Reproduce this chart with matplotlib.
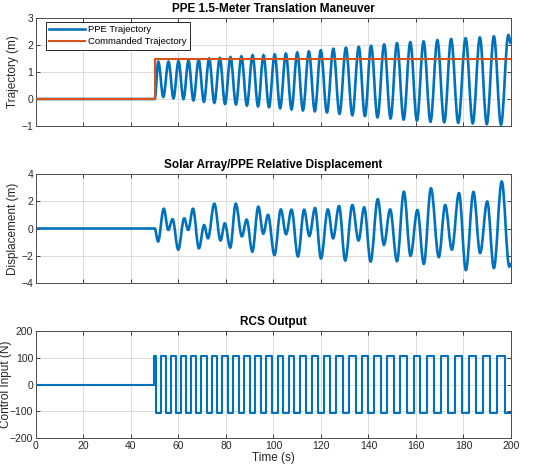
import numpy as np
import matplotlib.pyplot as plt
from matplotlib.path import Path
from matplotlib.patches import PathPatch

plt.rcParams['font.family'] = ['Liberation Sans', 'DejaVu Sans']

BLUE = '#0072BD'
ORANGE = '#D95319'
AXC = '#262626'

# commanded step
cmd_t = [0, 50, 50, 200]
cmd_y = [0, 0, 1.5, 1.5]

# PPE trajectory: peaks and troughs
peak_t = [51.5, 55.8, 60.0, 64.2, 68.5, 72.9, 77.4, 81.9, 86.5, 91.2,
          95.8, 100.5, 105.2, 110.0, 114.9, 119.9, 125.2, 130.5, 135.9, 141.1,
          146.6, 152.0, 157.6, 163.2, 169.0, 174.8, 180.9, 186.9, 192.8, 198.9]
peak_y = [1.38, 1.38, 1.40, 1.42, 1.45, 1.50, 1.52, 1.55, 1.58, 1.62,
          1.62, 1.65, 1.68, 1.72, 1.76, 1.80, 1.86, 1.90, 1.93, 1.97,
          2.02, 2.07, 2.10, 2.13, 2.18, 2.22, 2.25, 2.28, 2.32, 2.37]
trough_t = [53.6, 57.9, 62.1, 66.3, 70.7, 75.1, 79.6, 84.2, 88.8, 93.5,
            98.1, 102.8, 107.6, 112.4, 117.4, 122.5, 127.8, 133.2, 138.5, 143.8,
            149.3, 154.8, 160.4, 166.1, 171.9, 177.8, 183.9, 189.8, 195.8]
trough_y = [0.08, 0.03, 0.0, -0.05, -0.10, -0.14, -0.18, -0.20, -0.24, -0.27,
            -0.30, -0.34, -0.38, -0.42, -0.45, -0.50, -0.55, -0.60, -0.63, -0.68,
            -0.72, -0.76, -0.80, -0.84, -0.86, -0.88, -0.90, -0.93, -0.95]

# solar array / PPE relative displacement extrema
rel_t = [0, 50, 51.4, 53.8, 55.7, 57.5, 59.9, 62.4, 64.1, 66.1, 68.6, 70.8,
         72.4, 75.1, 77.7, 79.5, 81.8, 84.1, 86.7, 88.7, 91.1, 93.6, 95.7,
         97.7, 100.4, 103.1, 105.3, 107.6, 110.3, 112.9, 115.1, 117.5, 120.0,
         122.9, 125.1, 127.6, 130.2, 133.2, 135.8, 138.2, 140.9, 143.9, 146.5,
         149.1, 152.0, 154.9, 157.7, 160.6, 163.3, 166.3, 169.6, 172.3, 175.1,
         178.1, 181.0, 184.2, 187.0, 190.0, 192.8, 196.1, 199.3, 200]
rel_y = [0, 0, -0.95, 1.45, -0.1, 0.68, -1.55, 0.75, -0.1, 1.45, -1.45, 0.25,
         -0.72, 1.82, -0.88, 0.38, -1.4, 1.82, -0.58, 0.65, -1.7, 1.6, -0.38,
         1.0, -1.95, 1.4, -0.42, 1.38, -2.05, 1.38, -0.55, 1.5, -2.2,
         1.4, -0.72, 1.65, -2.35, 1.72, -0.88, 1.55, -2.42, 2.15, -1.2,
         1.4, -2.4, 2.7, -2.0, 1.35, -2.6, 2.95, -2.1, 1.72, -1.55,
         2.6, -3.05, 2.68, -1.8, 1.98, -2.9, 3.45, -2.8, -2.55]

# RCS thruster: start spike, then +/- pulses
spike_t = [0, 49.8, 49.95, 50.05, 50.2, 50.3, 50.6]
spike_y = [0, 105, 0, 105, 0, 105, -105]
rcs_on = [52.6, 56.9, 61.1, 65.3, 69.6, 74.0, 78.5, 83.1, 87.7, 92.4,
          97.0, 101.7, 106.4, 111.2, 116.2, 121.2, 126.5, 131.9, 137.2, 142.5,
          148.0, 153.4, 159.0, 164.7, 170.5, 176.3, 182.4, 188.4, 194.3]
rcs_off = [54.7, 59.0, 63.2, 67.4, 71.8, 76.3, 80.8, 85.4, 90.0, 94.7,
           99.3, 104.0, 108.8, 113.7, 118.7, 123.9, 129.2, 134.6, 139.8, 145.2,
           150.7, 156.2, 161.8, 167.6, 173.4, 179.4, 185.4, 191.3, 197.4]
rcs_level = 105

pts = sorted(zip(peak_t + trough_t, peak_y + trough_y))
ppe_t = [0, 50] + [p[0] for p in pts] + [200]
ppe_y = [0, 0] + [p[1] for p in pts] + [2.05]

rcs_t = list(spike_t)
rcs_y = list(spike_y)
for on, off in zip(rcs_on, rcs_off):
    rcs_t += [on, off]
    rcs_y += [rcs_level, -rcs_level]
rcs_t.append(200)
rcs_y.append(rcs_y[-1])


def wave_path(ts, ys):
    # smooth curve through the extrema, flat tangent at each one
    verts = [(ts[0], ys[0])]
    codes = [Path.MOVETO]
    for i in range(len(ts) - 1):
        dt = ts[i + 1] - ts[i]
        verts += [(ts[i] + 0.36 * dt, ys[i]),
                  (ts[i + 1] - 0.36 * dt, ys[i + 1]),
                  (ts[i + 1], ys[i + 1])]
        codes += [Path.CURVE4] * 3
    return Path(verts, codes)


fig = plt.figure(figsize=(5.52, 4.73), dpi=100)
left, width = 0.0652, 0.8605
ax1 = fig.add_axes([left, 0.7336, width, 0.2283])
ax2 = fig.add_axes([left, 0.4017, width, 0.2304])
ax3 = fig.add_axes([left, 0.0740, width, 0.2262])


def style(ax, ylim, yticks, title, ylabel):
    ax.set_xlim(0, 200)
    ax.set_ylim(*ylim)
    ax.set_xticks(np.arange(0, 201, 20))
    ax.set_yticks(yticks)
    ax.grid(True, color='#dcdcdc', lw=0.7)
    ax.set_axisbelow(True)
    ax.tick_params(direction='in', length=3, width=0.6, colors=AXC,
                   labelsize=7.5, top=True, right=True, pad=2)
    for s in ax.spines.values():
        s.set_color('#4d4d4d')
        s.set_linewidth(0.7)
    ax.set_title(title, fontsize=8.5, fontweight='bold', pad=4, color='black')
    ax.set_ylabel(ylabel, fontsize=8.5, color=AXC, labelpad=2)


ax1.add_patch(PathPatch(wave_path(ppe_t, ppe_y), fc='none', ec=BLUE, lw=1.9))
ax1.plot([], [], color=BLUE, lw=1.9, label='PPE Trajectory')
ax1.plot(cmd_t, cmd_y, color=ORANGE, lw=1.5, label='Commanded Trajectory', zorder=3)
style(ax1, (-1, 3), [-1, 0, 1, 2, 3], 'PPE 1.5-Meter Translation Maneuver',
      'Trajectory (m)')
ax1.tick_params(labelbottom=False)
leg = ax1.legend(loc='upper left', bbox_to_anchor=(0.021, 0.965), borderaxespad=0,
                 fontsize=6.8, fancybox=False, framealpha=1, edgecolor=AXC,
                 handlelength=3.8, borderpad=0.35, labelspacing=0.35,
                 handletextpad=0.3)
leg.get_frame().set_linewidth(0.7)

ax2.add_patch(PathPatch(wave_path(rel_t, rel_y), fc='none', ec=BLUE, lw=1.9))
style(ax2, (-4, 4), [-4, -2, 0, 2, 4], 'Solar Array/PPE Relative Displacement',
      'Displacement (m)')
ax2.tick_params(labelbottom=False)

ax3.step(rcs_t, rcs_y, where='post', color=BLUE, lw=1.5)
style(ax3, (-200, 200), [-200, -100, 0, 100, 200], 'RCS Output',
      'Control Input (N)')
ax3.yaxis.set_label_coords(-0.051, 0.5)
ax3.set_xlabel('Time (s)', fontsize=8.5, color=AXC, labelpad=1)

fig.savefig('out.png', dpi=100)
